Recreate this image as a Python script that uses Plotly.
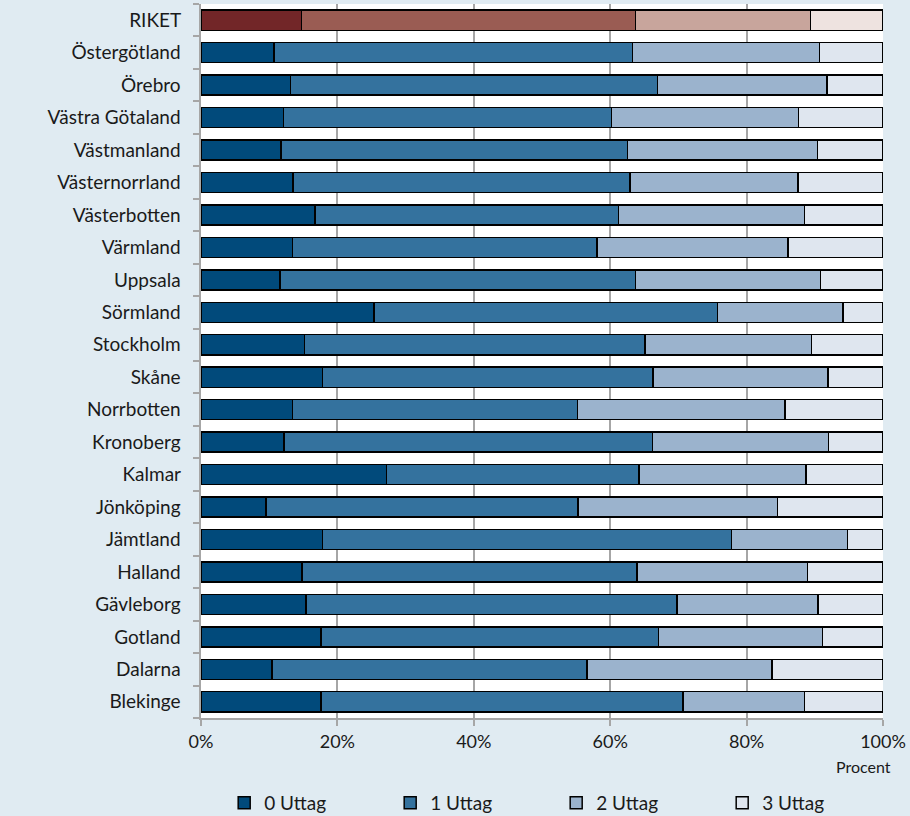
import plotly.graph_objects as go

categories = ["RIKET", "Östergötland", "Örebro", "Västra Götaland", "Västmanland",
              "Västernorrland", "Västerbotten", "Värmland", "Uppsala", "Sörmland",
              "Stockholm", "Skåne", "Norrbotten", "Kronoberg", "Kalmar", "Jönköping",
              "Jämtland", "Halland", "Gävleborg", "Gotland", "Dalarna", "Blekinge"]

uttag0 = [14.7, 10.7, 13.1, 12.1, 11.7, 13.5, 16.7, 13.4, 11.6, 25.4, 15.2, 17.8,
          13.4, 12.2, 27.2, 9.5, 17.8, 14.8, 15.4, 17.6, 10.4, 17.6]
uttag1 = [49.0, 52.6, 53.8, 48.1, 50.8, 49.4, 44.5, 44.7, 52.1, 50.3, 49.9, 48.5,
          41.8, 54.0, 37.0, 45.8, 60.0, 49.1, 54.4, 49.5, 46.2, 53.1]
uttag2 = [25.7, 27.4, 24.9, 27.4, 27.9, 24.6, 27.3, 28.0, 27.1, 18.4, 24.4, 25.6,
          30.4, 25.8, 24.5, 29.2, 17.0, 25.0, 20.7, 24.0, 27.1, 17.8]
uttag3 = [10.6, 9.3, 8.2, 12.4, 9.6, 12.5, 11.5, 13.9, 9.2, 5.9, 10.5, 8.1,
          14.4, 8.0, 11.3, 15.5, 5.2, 11.1, 9.5, 8.9, 16.3, 11.5]

series_names = ["0 Uttag", "1 Uttag", "2 Uttag", "3 Uttag"]
series_values = [uttag0, uttag1, uttag2, uttag3]
blue_colors = ["#014A7B", "#34729E", "#9BB3CD", "#DFE6EF"]
red_colors = ["#722628", "#9A5C53", "#C8A59C", "#EEE3E0"]
xticks = [0, 20, 40, 60, 80, 100]
xticklabels = ["0%", "20%", "40%", "60%", "80%", "100%"]

BG = "#E0EBF2"

fig = go.Figure()
for name, vals, bc, rc in zip(series_names, series_values, blue_colors, red_colors):
    colors = [rc if c == "RIKET" else bc for c in categories]
    fig.add_trace(go.Bar(
        y=categories, x=vals, orientation="h", name=name,
        marker=dict(color=colors, line=dict(color="black", width=1.5)),
        showlegend=False, hoverinfo="x+y",
    ))
    # legend-only proxy
    fig.add_trace(go.Bar(
        y=[None], x=[None], orientation="h", name=name,
        marker=dict(color=bc, line=dict(color="black", width=1.5)),
        showlegend=True,
    ))

fig.update_layout(
    barmode="stack",
    bargap=0.38,
    width=910, height=816,
    margin=dict(l=201, r=27, t=4, b=98, autoexpand=False),
    paper_bgcolor=BG,
    plot_bgcolor="white",
    font=dict(family="Lato, Open Sans, sans-serif", size=19, color="#1a1a1a"),
    legend=dict(orientation="h", x=0.034, xanchor="left", y=-0.119, yanchor="middle",
                traceorder="normal", entrywidth=121, bgcolor="rgba(0,0,0,0)",
                font=dict(size=19), itemclick=False),
    annotations=[dict(text="Procent", x=0.9707, xref="paper", y=-0.0686, yref="paper",
                      xanchor="center", yanchor="middle", showarrow=False,
                      font=dict(size=16))],
)
fig.update_xaxes(
    range=[0, 100], tickvals=xticks, ticktext=xticklabels,
    showgrid=True, gridcolor="#A6A6A6", gridwidth=2,
    showline=True, linecolor="#A6A6A6", linewidth=2,
    ticks="outside", ticklen=6, tickcolor="#A6A6A6", tickwidth=2,
    tickfont=dict(size=18),
    zeroline=False, fixedrange=True,
)
fig.update_yaxes(
    categoryorder="array", categoryarray=categories[::-1],
    showline=True, linecolor="#A6A6A6", linewidth=2,
    ticks="outside", ticklen=6, tickcolor="#A6A6A6", tickwidth=2,
    tickson="boundaries", showgrid=False, ticksuffix="   ", fixedrange=True,
    tickfont=dict(size=19),
)

fig.write_html(
    "out.html",
    config={"displayModeBar": False},
    post_script="document.body.style.margin='0';document.body.style.background='%s';" % BG,
)
